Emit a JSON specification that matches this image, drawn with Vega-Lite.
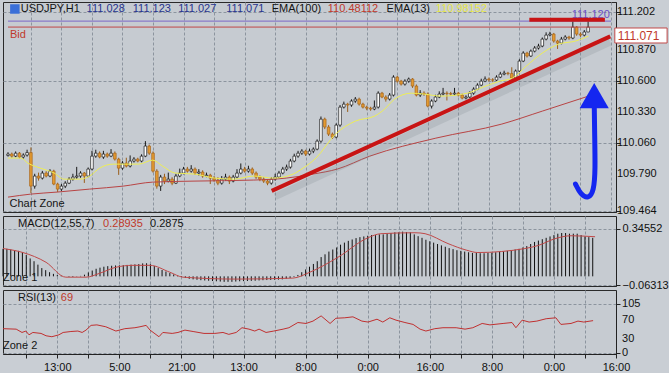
{
"$schema":"https://vega.github.io/schema/vega-lite/v6.json",
"background":"#c9ced4",
"padding":{"left":0,"right":0,"top":1,"bottom":0},
"spacing":4,
"bounds":"flush",
"config":{"view":{"stroke":"#2a2a2a","strokeWidth":1,"fill":"#c6cbd1"},
"axis":{"labelFont":"Liberation Sans","labelFontSize":11,"labelColor":"#111111","tickColor":"#222222","domainColor":"#222222","gridColor":"#8c949e","gridDash":[3,2],"gridWidth":1,"labelOverlap":false}},
"datasets":{
"candles":[
{"i":-6,"o":109.950,"h":109.978,"l":109.940,"c":109.962,"m":0.200},
{"i":-5,"o":109.962,"h":109.975,"l":109.930,"c":109.944,"m":0.200},
{"i":-4,"o":109.944,"h":109.985,"l":109.935,"c":109.970,"m":0.195},
{"i":-3,"o":109.970,"h":109.980,"l":109.925,"c":109.936,"m":0.190},
{"i":-2,"o":109.936,"h":109.968,"l":109.922,"c":109.953,"m":0.185},
{"i":-1,"o":109.953,"h":110.000,"l":109.940,"c":109.975,"m":0.175},
{"i":0,"o":109.975,"h":110.020,"l":109.622,"c":109.682,"m":0.155},
{"i":1,"o":109.682,"h":109.790,"l":109.660,"c":109.770,"m":0.130},
{"i":2,"o":109.770,"h":109.800,"l":109.730,"c":109.752,"m":0.110},
{"i":3,"o":109.752,"h":109.815,"l":109.740,"c":109.796,"m":0.085},
{"i":4,"o":109.796,"h":109.812,"l":109.758,"c":109.770,"m":0.060},
{"i":5,"o":109.770,"h":109.830,"l":109.760,"c":109.813,"m":0.045},
{"i":6,"o":109.813,"h":109.825,"l":109.690,"c":109.700,"m":0.030},
{"i":7,"o":109.700,"h":109.712,"l":109.630,"c":109.656,"m":0.018},
{"i":8,"o":109.656,"h":109.700,"l":109.640,"c":109.682,"m":0.010},
{"i":9,"o":109.682,"h":109.725,"l":109.665,"c":109.708,"m":0.005},
{"i":10,"o":109.708,"h":109.760,"l":109.700,"c":109.743,"m":0.000},
{"i":11,"o":109.743,"h":109.790,"l":109.730,"c":109.761,"m":-0.004},
{"i":12,"o":109.761,"h":109.850,"l":109.745,"c":109.770,"m":-0.005},
{"i":13,"o":109.770,"h":109.812,"l":109.755,"c":109.796,"m":-0.002},
{"i":14,"o":109.796,"h":109.805,"l":109.710,"c":109.770,"m":0.003},
{"i":15,"o":109.770,"h":109.845,"l":109.760,"c":109.831,"m":0.012},
{"i":16,"o":109.831,"h":109.990,"l":109.820,"c":109.944,"m":0.028},
{"i":17,"o":109.944,"h":110.000,"l":109.930,"c":109.970,"m":0.042},
{"i":18,"o":109.970,"h":109.985,"l":109.925,"c":109.936,"m":0.055},
{"i":19,"o":109.936,"h":109.990,"l":109.920,"c":109.962,"m":0.063},
{"i":20,"o":109.962,"h":109.975,"l":109.930,"c":109.944,"m":0.070},
{"i":21,"o":109.944,"h":110.005,"l":109.935,"c":109.970,"m":0.074},
{"i":22,"o":109.970,"h":109.985,"l":109.905,"c":109.918,"m":0.077},
{"i":23,"o":109.918,"h":109.930,"l":109.780,"c":109.839,"m":0.079},
{"i":24,"o":109.839,"h":109.900,"l":109.825,"c":109.883,"m":0.080},
{"i":25,"o":109.883,"h":109.930,"l":109.845,"c":109.857,"m":0.081},
{"i":26,"o":109.857,"h":109.950,"l":109.845,"c":109.901,"m":0.083},
{"i":27,"o":109.901,"h":109.935,"l":109.888,"c":109.918,"m":0.085},
{"i":28,"o":109.918,"h":109.930,"l":109.890,"c":109.901,"m":0.087},
{"i":29,"o":109.901,"h":109.960,"l":109.890,"c":109.944,"m":0.089},
{"i":30,"o":109.944,"h":110.075,"l":109.935,"c":110.032,"m":0.094},
{"i":31,"o":110.032,"h":110.045,"l":109.955,"c":109.970,"m":0.095},
{"i":32,"o":109.970,"h":109.985,"l":109.800,"c":109.813,"m":0.088},
{"i":33,"o":109.813,"h":109.830,"l":109.660,"c":109.682,"m":0.075},
{"i":34,"o":109.682,"h":109.780,"l":109.640,"c":109.761,"m":0.060},
{"i":35,"o":109.761,"h":109.790,"l":109.700,"c":109.726,"m":0.046},
{"i":36,"o":109.726,"h":109.800,"l":109.715,"c":109.743,"m":0.035},
{"i":37,"o":109.743,"h":109.760,"l":109.690,"c":109.708,"m":0.024},
{"i":38,"o":109.708,"h":109.790,"l":109.700,"c":109.770,"m":0.014},
{"i":39,"o":109.770,"h":109.835,"l":109.760,"c":109.796,"m":0.005},
{"i":40,"o":109.796,"h":109.850,"l":109.785,"c":109.831,"m":-0.005},
{"i":41,"o":109.831,"h":109.850,"l":109.800,"c":109.813,"m":-0.012},
{"i":42,"o":109.813,"h":109.865,"l":109.800,"c":109.831,"m":-0.018},
{"i":43,"o":109.831,"h":109.845,"l":109.780,"c":109.796,"m":-0.022},
{"i":44,"o":109.796,"h":109.830,"l":109.775,"c":109.805,"m":-0.025},
{"i":45,"o":109.805,"h":109.820,"l":109.755,"c":109.770,"m":-0.028},
{"i":46,"o":109.770,"h":109.800,"l":109.760,"c":109.778,"m":-0.030},
{"i":47,"o":109.778,"h":109.790,"l":109.700,"c":109.752,"m":-0.032},
{"i":48,"o":109.752,"h":109.770,"l":109.720,"c":109.735,"m":-0.034},
{"i":49,"o":109.735,"h":109.760,"l":109.690,"c":109.708,"m":-0.036},
{"i":50,"o":109.708,"h":109.770,"l":109.695,"c":109.743,"m":-0.038},
{"i":51,"o":109.743,"h":109.790,"l":109.730,"c":109.761,"m":-0.040},
{"i":52,"o":109.761,"h":109.775,"l":109.700,"c":109.726,"m":-0.040},
{"i":53,"o":109.726,"h":109.780,"l":109.715,"c":109.761,"m":-0.040},
{"i":54,"o":109.761,"h":109.830,"l":109.750,"c":109.796,"m":-0.038},
{"i":55,"o":109.796,"h":109.880,"l":109.785,"c":109.831,"m":-0.036},
{"i":56,"o":109.831,"h":109.850,"l":109.800,"c":109.813,"m":-0.035},
{"i":57,"o":109.813,"h":109.860,"l":109.800,"c":109.831,"m":-0.034},
{"i":58,"o":109.831,"h":109.845,"l":109.780,"c":109.796,"m":-0.033},
{"i":59,"o":109.796,"h":109.810,"l":109.745,"c":109.761,"m":-0.032},
{"i":60,"o":109.761,"h":109.775,"l":109.725,"c":109.743,"m":-0.030},
{"i":61,"o":109.743,"h":109.760,"l":109.710,"c":109.726,"m":-0.028},
{"i":62,"o":109.726,"h":109.740,"l":109.690,"c":109.708,"m":-0.027},
{"i":63,"o":109.708,"h":109.760,"l":109.695,"c":109.743,"m":-0.026},
{"i":64,"o":109.743,"h":109.790,"l":109.730,"c":109.761,"m":-0.025},
{"i":65,"o":109.761,"h":109.815,"l":109.750,"c":109.796,"m":-0.024},
{"i":66,"o":109.796,"h":109.850,"l":109.785,"c":109.831,"m":-0.022},
{"i":67,"o":109.831,"h":109.870,"l":109.815,"c":109.848,"m":-0.018},
{"i":68,"o":109.848,"h":109.920,"l":109.835,"c":109.901,"m":-0.012},
{"i":69,"o":109.901,"h":109.965,"l":109.890,"c":109.944,"m":-0.005},
{"i":70,"o":109.944,"h":109.990,"l":109.930,"c":109.970,"m":0.010},
{"i":71,"o":109.970,"h":110.005,"l":109.955,"c":109.988,"m":0.030},
{"i":72,"o":109.988,"h":110.000,"l":109.945,"c":109.962,"m":0.050},
{"i":73,"o":109.962,"h":110.010,"l":109.950,"c":109.988,"m":0.070},
{"i":74,"o":109.988,"h":110.020,"l":109.970,"c":110.005,"m":0.090},
{"i":75,"o":110.005,"h":110.090,"l":109.995,"c":110.075,"m":0.110},
{"i":76,"o":110.075,"h":110.290,"l":110.060,"c":110.267,"m":0.140},
{"i":77,"o":110.267,"h":110.280,"l":110.180,"c":110.198,"m":0.160},
{"i":78,"o":110.198,"h":110.215,"l":110.120,"c":110.136,"m":0.180},
{"i":79,"o":110.136,"h":110.150,"l":110.095,"c":110.110,"m":0.195},
{"i":80,"o":110.110,"h":110.230,"l":110.100,"c":110.215,"m":0.210},
{"i":81,"o":110.215,"h":110.390,"l":110.200,"c":110.372,"m":0.230},
{"i":82,"o":110.372,"h":110.420,"l":110.360,"c":110.398,"m":0.245},
{"i":83,"o":110.398,"h":110.410,"l":110.330,"c":110.390,"m":0.258},
{"i":84,"o":110.390,"h":110.440,"l":110.375,"c":110.425,"m":0.268},
{"i":85,"o":110.425,"h":110.460,"l":110.410,"c":110.442,"m":0.278},
{"i":86,"o":110.442,"h":110.455,"l":110.385,"c":110.398,"m":0.285},
{"i":87,"o":110.398,"h":110.410,"l":110.360,"c":110.372,"m":0.290},
{"i":88,"o":110.372,"h":110.385,"l":110.345,"c":110.363,"m":0.295},
{"i":89,"o":110.363,"h":110.375,"l":110.340,"c":110.355,"m":0.300},
{"i":90,"o":110.355,"h":110.430,"l":110.345,"c":110.372,"m":0.300},
{"i":91,"o":110.372,"h":110.510,"l":110.360,"c":110.494,"m":0.305},
{"i":92,"o":110.494,"h":110.505,"l":110.450,"c":110.460,"m":0.305},
{"i":93,"o":110.460,"h":110.475,"l":110.420,"c":110.442,"m":0.310},
{"i":94,"o":110.442,"h":110.495,"l":110.430,"c":110.477,"m":0.315},
{"i":95,"o":110.477,"h":110.650,"l":110.465,"c":110.634,"m":0.320},
{"i":96,"o":110.634,"h":110.645,"l":110.585,"c":110.599,"m":0.320},
{"i":97,"o":110.599,"h":110.610,"l":110.560,"c":110.573,"m":0.325},
{"i":98,"o":110.573,"h":110.615,"l":110.560,"c":110.599,"m":0.322},
{"i":99,"o":110.599,"h":110.630,"l":110.585,"c":110.617,"m":0.320},
{"i":100,"o":110.617,"h":110.625,"l":110.540,"c":110.556,"m":0.305},
{"i":101,"o":110.556,"h":110.570,"l":110.465,"c":110.477,"m":0.292},
{"i":102,"o":110.477,"h":110.520,"l":110.460,"c":110.494,"m":0.280},
{"i":103,"o":110.494,"h":110.510,"l":110.470,"c":110.486,"m":0.266},
{"i":104,"o":110.486,"h":110.500,"l":110.370,"c":110.381,"m":0.255},
{"i":105,"o":110.381,"h":110.440,"l":110.360,"c":110.425,"m":0.245},
{"i":106,"o":110.425,"h":110.480,"l":110.415,"c":110.460,"m":0.235},
{"i":107,"o":110.460,"h":110.510,"l":110.450,"c":110.486,"m":0.225},
{"i":108,"o":110.486,"h":110.540,"l":110.475,"c":110.494,"m":0.215},
{"i":109,"o":110.494,"h":110.510,"l":110.430,"c":110.490,"m":0.205},
{"i":110,"o":110.490,"h":110.505,"l":110.470,"c":110.486,"m":0.198},
{"i":111,"o":110.486,"h":110.540,"l":110.475,"c":110.494,"m":0.190},
{"i":112,"o":110.494,"h":110.505,"l":110.465,"c":110.477,"m":0.185},
{"i":113,"o":110.477,"h":110.490,"l":110.440,"c":110.451,"m":0.180},
{"i":114,"o":110.451,"h":110.475,"l":110.440,"c":110.460,"m":0.175},
{"i":115,"o":110.460,"h":110.510,"l":110.450,"c":110.494,"m":0.170},
{"i":116,"o":110.494,"h":110.545,"l":110.480,"c":110.529,"m":0.170},
{"i":117,"o":110.529,"h":110.580,"l":110.520,"c":110.564,"m":0.168},
{"i":118,"o":110.564,"h":110.620,"l":110.555,"c":110.599,"m":0.168},
{"i":119,"o":110.599,"h":110.640,"l":110.590,"c":110.617,"m":0.170},
{"i":120,"o":110.617,"h":110.630,"l":110.595,"c":110.610,"m":0.172},
{"i":121,"o":110.610,"h":110.625,"l":110.590,"c":110.608,"m":0.175},
{"i":122,"o":110.608,"h":110.650,"l":110.600,"c":110.634,"m":0.180},
{"i":123,"o":110.634,"h":110.680,"l":110.625,"c":110.660,"m":0.182},
{"i":124,"o":110.660,"h":110.690,"l":110.650,"c":110.669,"m":0.185},
{"i":125,"o":110.669,"h":110.680,"l":110.650,"c":110.665,"m":0.190},
{"i":126,"o":110.665,"h":110.720,"l":110.615,"c":110.626,"m":0.195},
{"i":127,"o":110.626,"h":110.700,"l":110.615,"c":110.687,"m":0.200},
{"i":128,"o":110.687,"h":110.790,"l":110.680,"c":110.774,"m":0.210},
{"i":129,"o":110.774,"h":110.860,"l":110.765,"c":110.844,"m":0.220},
{"i":130,"o":110.844,"h":110.855,"l":110.805,"c":110.818,"m":0.235},
{"i":131,"o":110.818,"h":110.875,"l":110.810,"c":110.861,"m":0.250},
{"i":132,"o":110.861,"h":110.905,"l":110.850,"c":110.888,"m":0.260},
{"i":133,"o":110.888,"h":110.925,"l":110.875,"c":110.905,"m":0.270},
{"i":134,"o":110.905,"h":110.980,"l":110.895,"c":110.966,"m":0.280},
{"i":135,"o":110.966,"h":111.025,"l":110.955,"c":111.001,"m":0.290},
{"i":136,"o":111.001,"h":111.030,"l":110.990,"c":111.010,"m":0.300},
{"i":137,"o":111.010,"h":111.020,"l":110.935,"c":110.949,"m":0.310},
{"i":138,"o":110.949,"h":110.960,"l":110.880,"c":110.931,"m":0.315},
{"i":139,"o":110.931,"h":110.985,"l":110.920,"c":110.966,"m":0.315},
{"i":140,"o":110.966,"h":111.000,"l":110.955,"c":110.984,"m":0.310},
{"i":141,"o":110.984,"h":110.995,"l":110.960,"c":110.975,"m":0.310},
{"i":142,"o":110.975,"h":111.125,"l":110.965,"c":111.071,"m":0.310},
{"i":143,"o":111.071,"h":111.080,"l":110.995,"c":111.010,"m":0.300},
{"i":144,"o":111.010,"h":111.025,"l":110.985,"c":111.001,"m":0.290},
{"i":145,"o":111.001,"h":111.045,"l":110.990,"c":111.028,"m":0.285},
{"i":146,"o":111.028,"h":111.123,"l":111.027,"c":111.071,"m":0.280}
],
"ema13":[{"i":-6,"p":109.927},{"i":-2.6,"p":109.927},{"i":-0.8,"p":109.883},{"i":2.5,"p":109.839},{"i":6.1,"p":109.796},{"i":8.7,"p":109.743},{"i":12.8,"p":109.743},{"i":15.4,"p":109.77},{"i":18,"p":109.839},{"i":21.6,"p":109.874},{"i":24.9,"p":109.874},{"i":28.3,"p":109.874},{"i":31.9,"p":109.909},{"i":34.5,"p":109.857},{"i":37.8,"p":109.796},{"i":43,"p":109.787},{"i":48.1,"p":109.752},{"i":53.3,"p":109.743},{"i":58.4,"p":109.77},{"i":63.6,"p":109.752},{"i":68.7,"p":109.787},{"i":71.3,"p":109.839},{"i":74.7,"p":109.927},{"i":79.8,"p":110.136},{"i":85,"p":110.25},{"i":90.1,"p":110.294},{"i":92.7,"p":110.355},{"i":95.3,"p":110.442},{"i":99.7,"p":110.494},{"i":103,"p":110.486},{"i":107.4,"p":110.468},{"i":114.4,"p":110.494},{"i":118.5,"p":110.547},{"i":122.9,"p":110.599},{"i":126.2,"p":110.626},{"i":129.8,"p":110.73},{"i":134,"p":110.844},{"i":138.3,"p":110.922},{"i":142.7,"p":110.949},{"i":146.1,"p":110.992}],
"ema100":[{"i":-6,"p":109.586},{"i":-0.1,"p":109.612},{"i":6.9,"p":109.63},{"i":15.4,"p":109.656},{"i":24.2,"p":109.682},{"i":31.9,"p":109.717},{"i":43,"p":109.726},{"i":58.4,"p":109.735},{"i":66.9,"p":109.752},{"i":73.9,"p":109.787},{"i":80.3,"p":109.831},{"i":88.8,"p":109.944},{"i":106.1,"p":110.101},{"i":123.4,"p":110.224},{"i":134,"p":110.337},{"i":146.1,"p":110.468}],
"levels":[{"i":-6,"i2":152,"p":111.123,"k":"high"},{"i":-6,"i2":152,"p":111.071,"k":"bid"}],
"topbar":[{"i":130.6,"i2":150.4,"p":111.134}],
"trend":[{"i":63.1,"p":109.64},{"i":151.8,"p":110.99}],
"shadow":[{"i":64,"p":109.59},{"i":151.8,"p":110.94}],
"arrow":[{"i":142.7,"p":109.70,"o":1},{"i":144.0,"p":109.61,"o":2},{"i":146.1,"p":109.57,"o":3},{"i":147.5,"p":109.64,"o":4},{"i":147.9,"p":109.82,"o":5},{"i":147.7,"p":110.16,"o":6},{"i":147.6,"p":110.42,"o":7}],
"arrowhead":[{"i":147.6,"p":110.473}],
"icon":[{"i":-4.2,"p":111.229}],
"tag":[{"i":153,"i2":166.7,"p":111.063,"p2":110.932,"t":"111.071","ti":153.8,"tp":110.997}],
"pricelabels":[{"i":153.55,"p":109.464},{"i":153.55,"p":109.79},{"i":153.55,"p":110.06},{"i":153.55,"p":110.33},{"i":153.55,"p":110.6},{"i":153.55,"p":110.87},{"i":153.55,"p":111.202}],
"rsilabels":[{"i":153.55,"v":0},{"i":153.55,"v":30},{"i":153.55,"v":70},{"i":153.55,"v":105}],
"maintext":[
{"t":"USDJPY,H1","i":-2.65,"p":111.229,"k":"n"},
{"t":"111.028","i":14.6,"p":111.229,"k":"v"},
{"t":"111.123","i":26.7,"p":111.229,"k":"v"},
{"t":"111.027","i":38.6,"p":111.229,"k":"v"},
{"t":"111.071","i":51.2,"p":111.229,"k":"v"},
{"t":"EMA(100)","i":63.1,"p":111.229,"k":"n"},
{"t":"110.48112","i":77.8,"p":111.229,"k":"r"},
{"t":"EMA(13)","i":93.2,"p":111.229,"k":"n"},
{"t":"110.98152","i":106.1,"p":111.229,"k":"y"},
{"t":"Bid","i":-5.5,"p":111.002,"k":"r"},
{"t":"Chart Zone","i":-5.6,"p":109.53,"k":"n"},
{"t":"111.120","i":141.7,"p":111.178,"k":"p"}],
"signal":[{"i":-6,"v":0.202},{"i":-0.85,"v":0.173},{"i":5.1,"v":0.102},{"i":10.2,"v":-0.006},{"i":15.4,"v":-0.006},{"i":19,"v":0.023},{"i":23.1,"v":0.066},{"i":27.5,"v":0.08},{"i":31.9,"v":0.08},{"i":37,"v":0.03},{"i":40.4,"v":-0.006},{"i":54,"v":-0.02},{"i":68.7,"v":-0.013},{"i":73.1,"v":0.03},{"i":80.3,"v":0.138},{"i":88.1,"v":0.281},{"i":91.4,"v":0.31},{"i":100.2,"v":0.317},{"i":102.8,"v":0.31},{"i":108.7,"v":0.238},{"i":113.5,"v":0.19},{"i":116.4,"v":0.173},{"i":128.5,"v":0.202},{"i":131.9,"v":0.224},{"i":136.3,"v":0.274},{"i":140.4,"v":0.295},{"i":146.6,"v":0.288}],
"macdtext":[{"t":"MACD(12,55,7)","i":-2.13,"v":0.381,"k":"n"},{"t":"0.28935","i":19.8,"v":0.381,"k":"r"},{"t":"0.2875","i":31.9,"v":0.381,"k":"n"},{"t":"Zone 1","i":-6,"v":-0.009,"k":"n"}],
"rsi":[{"i":-6,"v":52},{"i":-2.6,"v":51},{"i":-1.1,"v":44},{"i":-0.1,"v":47},{"i":0.7,"v":39},{"i":1.7,"v":44},{"i":3.8,"v":42},{"i":5.1,"v":37},{"i":6.6,"v":35},{"i":8.4,"v":39},{"i":9.5,"v":44},{"i":11.5,"v":46},{"i":13.3,"v":47},{"i":14.4,"v":44},{"i":15.4,"v":49},{"i":16.7,"v":59},{"i":18.2,"v":60},{"i":20.5,"v":56},{"i":23.1,"v":47},{"i":25.4,"v":52},{"i":28,"v":54},{"i":29.3,"v":56},{"i":30.9,"v":59},{"i":31.9,"v":49},{"i":34.2,"v":35},{"i":35.2,"v":44},{"i":37.6,"v":42},{"i":39.1,"v":44},{"i":40.9,"v":49},{"i":43,"v":46},{"i":45.8,"v":42},{"i":48.6,"v":42},{"i":50.7,"v":44},{"i":52.2,"v":40},{"i":54.1,"v":44},{"i":55.6,"v":54},{"i":57.4,"v":51},{"i":58.9,"v":47},{"i":60,"v":51},{"i":61.8,"v":44},{"i":63.8,"v":47},{"i":66.2,"v":51},{"i":67.7,"v":54},{"i":70,"v":65},{"i":72.1,"v":63},{"i":73.9,"v":68},{"i":76,"v":79},{"i":78.3,"v":63},{"i":79.8,"v":74},{"i":82.1,"v":75},{"i":84.2,"v":77},{"i":86.5,"v":68},{"i":88.1,"v":66},{"i":90.4,"v":72},{"i":91.9,"v":66},{"i":93.7,"v":75},{"i":95.3,"v":70},{"i":97.6,"v":65},{"i":99.7,"v":61},{"i":101.5,"v":51},{"i":103,"v":47},{"i":105.3,"v":52},{"i":107.4,"v":54},{"i":110.8,"v":54},{"i":113.1,"v":51},{"i":115.1,"v":54},{"i":117.5,"v":63},{"i":119.5,"v":60},{"i":122.9,"v":63},{"i":125.2,"v":65},{"i":126.2,"v":54},{"i":127.8,"v":70},{"i":129.6,"v":66},{"i":131.6,"v":68},{"i":134,"v":73},{"i":136.5,"v":75},{"i":137.8,"v":61},{"i":140.4,"v":63},{"i":142.2,"v":68},{"i":143.7,"v":66},{"i":146.1,"v":69}],
"rsitext":[{"t":"RSI(13)","i":-2.13,"v":116.8,"k":"n"},{"t":"69","i":8.9,"v":116.8,"k":"r"},{"t":"Zone 2","i":-6,"v":15.4,"k":"n"}]
},
"vconcat":[
{
"width":613,"height":210,
"encoding":{"x":{"field":"i","type":"quantitative","title":null,"scale":{"domain":[-6,152],"nice":false,"zero":false},"axis":{"values":[0,8,16,24,32,40,48,56,64,72,80,88,96,104,112,120,128,136,144,152],"labels":false,"ticks":false,"domain":false,"grid":true}}},
"layer":[
{"data":{"name":"candles"},"mark":{"type":"rule","strokeWidth":1,"clip":true},
 "encoding":{"y":{"field":"l","type":"quantitative","title":null,"scale":{"domain":[109.456,111.29],"nice":false,"zero":false},"axis":{"orient":"right","values":[109.464,109.79,110.06,110.33,110.6,110.87,111.202],"labels":false,"tickSize":4,"grid":true}},
 "y2":{"field":"h"},
 "color":{"condition":{"test":"datum.c >= datum.o","value":"#1a1a1a"},"value":"#9a5e1a"}}},
{"data":{"name":"candles"},"mark":{"type":"bar","size":2.6,"strokeWidth":0.7,"clip":true},
 "encoding":{"y":{"field":"o","type":"quantitative","title":null},"y2":{"field":"c"},
 "fill":{"condition":{"test":"datum.c >= datum.o","value":"#ffffff"},"value":"#e39a30"},
 "stroke":{"condition":{"test":"datum.c >= datum.o","value":"#1a1a1a"},"value":"#a8661c"}}},
{"data":{"name":"ema100"},"mark":{"type":"line","color":"#b84444","strokeWidth":1,"interpolate":"monotone"},
 "encoding":{"y":{"field":"p","type":"quantitative","title":null}}},
{"data":{"name":"ema13"},"mark":{"type":"line","color":"#eeee55","strokeWidth":1,"interpolate":"monotone"},
 "encoding":{"y":{"field":"p","type":"quantitative","title":null}}},
{"data":{"name":"levels"},"mark":{"type":"rule","strokeWidth":1},
 "encoding":{"x2":{"field":"i2"},"y":{"field":"p","type":"quantitative","title":null},
 "color":{"condition":{"test":"datum.k == 'high'","value":"#7b68c8"},"value":"#c04848"}}},
{"data":{"name":"shadow"},"mark":{"type":"line","color":"#7a8088","strokeWidth":7,"opacity":0.2},
 "encoding":{"y":{"field":"p","type":"quantitative","title":null}}},
{"data":{"name":"trend"},"mark":{"type":"line","color":"#c81414","strokeWidth":4},
 "encoding":{"y":{"field":"p","type":"quantitative","title":null}}},
{"data":{"name":"maintext"},"mark":{"type":"text","font":"Liberation Sans","fontSize":11,"align":"left","baseline":"middle"},
 "encoding":{"y":{"field":"p","type":"quantitative","title":null},"text":{"field":"t"},
 "color":{"field":"k","type":"nominal","legend":null,"scale":{"domain":["n","v","r","y","p"],"range":["#141414","#26348e","#c0392b","#e6e64a","#6b4fc7"]}}}},
{"data":{"name":"topbar"},"mark":{"type":"rule","color":"#c81414","strokeWidth":4},
 "encoding":{"x2":{"field":"i2"},"y":{"field":"p","type":"quantitative","title":null}}},
{"data":{"name":"arrow"},"mark":{"type":"line","color":"#1426f0","strokeWidth":5,"interpolate":"basis","strokeCap":"round"},
 "encoding":{"y":{"field":"p","type":"quantitative","title":null},"order":{"field":"o"}}},
{"data":{"name":"arrowhead"},"mark":{"type":"point","shape":"triangle-up","size":850,"filled":true,"color":"#1426f0","opacity":1},
 "encoding":{"y":{"field":"p","type":"quantitative","title":null}}},
{"data":{"name":"icon"},"mark":{"type":"square","size":90,"color":"#3a6fd8","opacity":1},
 "encoding":{"y":{"field":"p","type":"quantitative","title":null}}},
{"data":{"name":"pricelabels"},"mark":{"type":"text","font":"Liberation Sans","fontSize":11,"align":"left","baseline":"middle","color":"#111111"},
 "encoding":{"y":{"field":"p","type":"quantitative","title":null},"text":{"field":"p","type":"quantitative","format":".3f"}}},
{"data":{"name":"tag"},"mark":{"type":"rect","fill":"#ffffff","stroke":"#c04848","strokeWidth":1},
 "encoding":{"x2":{"field":"i2"},"y":{"field":"p","type":"quantitative","title":null},"y2":{"field":"p2"}}},
{"data":{"name":"tag"},"mark":{"type":"text","color":"#c0392b","font":"Liberation Sans","fontSize":12,"align":"left","baseline":"middle"},
 "encoding":{"x":{"field":"ti","type":"quantitative"},"y":{"field":"tp","type":"quantitative","title":null},"text":{"field":"t"}}}
]
},
{
"width":613,"height":70,
"encoding":{"x":{"field":"i","type":"quantitative","title":null,"scale":{"domain":[-6,152],"nice":false,"zero":false},"axis":{"values":[0,8,16,24,32,40,48,56,64,72,80,88,96,104,112,120,128,136,144,152],"labels":false,"ticks":false,"domain":false,"grid":true}}},
"layer":[
{"data":{"name":"candles"},"mark":{"type":"rule","color":"#111111","strokeWidth":1},
 "encoding":{"y":{"field":"m","type":"quantitative","title":null,"scale":{"domain":[-0.0703,0.4387],"nice":false,"zero":false},"axis":{"orient":"right","values":[-0.06313,0.34552],"format":".5f","tickSize":4,"labelPadding":2,"grid":true}},"y2":{"datum":0}}},
{"data":{"name":"signal"},"mark":{"type":"line","color":"#c04848","strokeWidth":1,"interpolate":"monotone"},
 "encoding":{"y":{"field":"v","type":"quantitative","title":null}}},
{"data":{"name":"macdtext"},"mark":{"type":"text","font":"Liberation Sans","fontSize":11,"align":"left","baseline":"middle"},
 "encoding":{"y":{"field":"v","type":"quantitative","title":null},"text":{"field":"t"},
 "color":{"field":"k","type":"nominal","legend":null,"scale":{"domain":["n","v","r","y","p"],"range":["#141414","#26348e","#c0392b","#e6e64a","#6b4fc7"]}}}}
]
},
{
"width":613,"height":64,
"encoding":{"x":{"field":"i","type":"quantitative","title":null,"scale":{"domain":[-6,152],"nice":false,"zero":false},"axis":{"orient":"bottom","values":[0,8,16,24,32,40,48,56,64,72,80,88,96,104,112,120,128,136,144,152],"grid":true,"tickSize":4,"labelPadding":3,"labelExpr":"(datum.value - 8) % 16 == 0 ? ['13:00','5:00','21:00','13:00','8:00','0:00','16:00','8:00','0:00','16:00'][(datum.value - 8) / 16] : ''","labelOverlap":false,"labelFlush":false}}},
"layer":[
{"data":{"name":"rsi"},"mark":{"type":"line","color":"#c03030","strokeWidth":1},
 "encoding":{"y":{"field":"v","type":"quantitative","title":null,"scale":{"domain":[-1.5,133.7],"nice":false,"zero":false},"axis":{"orient":"right","values":[0,30,70,105],"labels":false,"tickSize":4,"grid":true}}}},
{"data":{"name":"rsilabels"},"mark":{"type":"text","font":"Liberation Sans","fontSize":11,"align":"left","baseline":"middle","color":"#111111"},
 "encoding":{"y":{"field":"v","type":"quantitative","title":null},"text":{"field":"v","type":"quantitative"}}},
{"data":{"name":"rsitext"},"mark":{"type":"text","font":"Liberation Sans","fontSize":11,"align":"left","baseline":"middle"},
 "encoding":{"y":{"field":"v","type":"quantitative","title":null},"text":{"field":"t"},
 "color":{"field":"k","type":"nominal","legend":null,"scale":{"domain":["n","v","r","y","p"],"range":["#141414","#26348e","#c0392b","#e6e64a","#6b4fc7"]}}}}
]
}
]
}
